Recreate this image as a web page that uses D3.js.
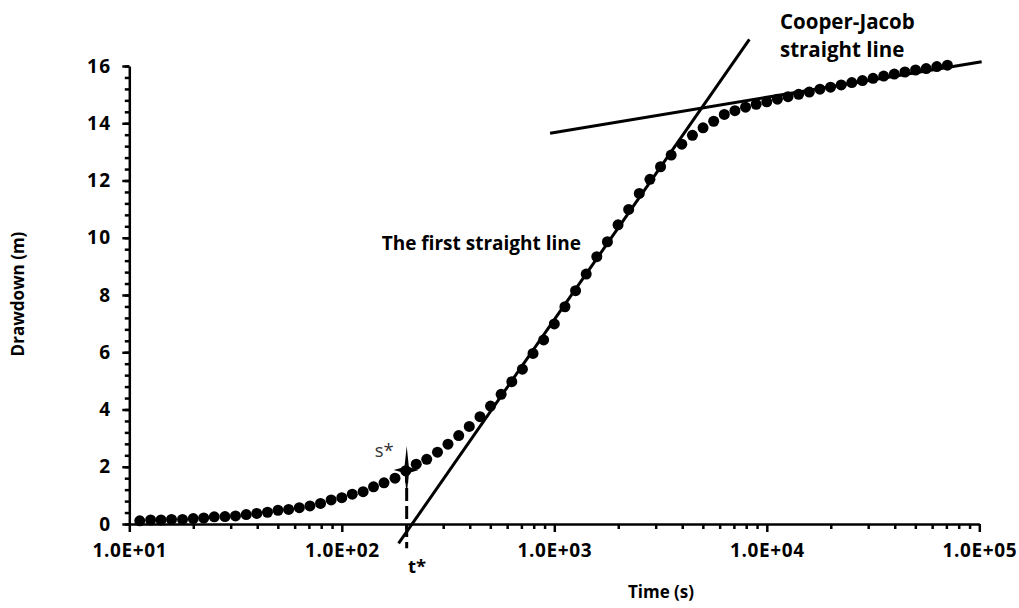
<!DOCTYPE html>
<html>
<head>
<meta charset="utf-8">
<script src="https://cdn.jsdelivr.net/npm/d3@7"></script>
<style>
  body { margin: 0; background: #fff; }
  svg { display: block; font-family: "Open Sans", "Liberation Sans", sans-serif; }
  .axis path, .axis line { stroke: #000; stroke-width: 2.5; }
</style>
</head>
<body>
<svg id="chart" width="1019" height="608"></svg>
<script>
// time (s), log spaced measurements
let times = [
  11.2, 12.6, 14.1, 15.8, 17.8, 20.0, 22.4, 25.1, 28.2, 31.6,
  35.5, 39.8, 44.7, 50.1, 56.2, 63.1, 70.8, 79.4, 89.1, 100,
  112, 126, 141, 158, 178, 200, 224, 251, 282, 316,
  355, 398, 447, 501, 562, 631, 708, 794, 891, 1000,
  1122, 1259, 1413, 1585, 1778, 1995, 2239, 2512, 2818, 3162,
  3548, 3981, 4467, 5012, 5623, 6310, 7079, 7943, 8913, 10000,
  11220, 12589, 14125, 15849, 17783, 19953, 22387, 25119, 28184, 31623,
  35481, 39811, 44668, 50119, 56234, 63096, 70795
];
// drawdown (m)
let drawdown = [
  0.11, 0.14, 0.14, 0.16, 0.16, 0.19, 0.21, 0.25, 0.26, 0.28,
  0.33, 0.37, 0.41, 0.48, 0.51, 0.57, 0.63, 0.72, 0.84, 0.92,
  1.04, 1.13, 1.30, 1.44, 1.60, 1.86, 2.09, 2.26, 2.51, 2.79,
  3.09, 3.41, 3.75, 4.12, 4.53, 4.97, 5.41, 5.96, 6.43, 6.99,
  7.59, 8.15, 8.73, 9.34, 9.86, 10.45, 10.99, 11.55, 12.04, 12.48,
  12.89, 13.27, 13.58, 13.84, 14.07, 14.31, 14.44, 14.56, 14.66, 14.75,
  14.84, 14.93, 15.01, 15.09, 15.19, 15.26, 15.34, 15.42, 15.49, 15.57,
  15.65, 15.72, 15.79, 15.86, 15.91, 15.98, 16.03
];

// straight lines [time, drawdown] end points
let firstLine = [[185, -0.68], [8280, 16.93]];
let cooperJacobLine = [[955, 13.65], [102600, 16.15]];

// t*, s* marker
let tStar = 202;
let sStar = 1.89;
let tStarBottom = -0.85;

let xTickValues = [10, 100, 1000, 10000, 100000];
let xTickLabels = ["1.0E+01", "1.0E+02", "1.0E+03", "1.0E+04", "1.0E+05"];
let yTickValues = [0, 2, 4, 6, 8, 10, 12, 14, 16];

// annotation anchors [time, drawdown]
let notes = [
  {text: "The first straight line", t: 154, s: 9.57, bold: true, size: 19},
  {text: "Cooper-Jacob", t: 11530, s: 17.29, bold: true, size: 20.5},
  {text: "straight line", t: 11530, s: 16.31, bold: true, size: 20.5},
  {text: "s*", t: 143, s: 2.34, bold: false, size: 18.5},
  {text: "t*", t: 205, s: -1.72, bold: true, size: 18.5}
];

let svg = d3.select("#chart");

let x = d3.scaleLog()
    .domain([10, 100000])
    .range([129.3, 979.3]);

let y = d3.scaleLinear()
    .domain([0, 16])
    .range([524, 66]);

// minor ticks first so the axis lines sit on top
let xMinor = x.ticks().filter(function(d) { return xTickValues.indexOf(d) === -1; });
svg.append("g")
    .attr("class", "axis")
    .attr("transform", "translate(0," + y(0) + ")")
    .call(d3.axisBottom(x).tickValues(xMinor).tickSize(5).tickSizeOuter(0).tickFormat(""))
    .select(".domain").remove();

let yMinor = d3.range(0, 16.01, 0.4);
svg.append("g")
    .attr("class", "axis")
    .attr("transform", "translate(" + x(10) + ",0)")
    .call(d3.axisLeft(y).tickValues(yMinor).tickSize(4.5).tickSizeOuter(0).tickFormat(""))
    .select(".domain").remove();

let yAxis = svg.append("g")
    .attr("class", "axis")
    .attr("transform", "translate(" + x(10) + ",0)")
    .call(d3.axisLeft(y).tickValues(yTickValues).tickSize(7).tickSizeOuter(0).tickPadding(11));

let xAxis = svg.append("g")
    .attr("class", "axis")
    .attr("transform", "translate(0," + y(0) + ")")
    .call(d3.axisBottom(x).tickValues(xTickValues).tickSize(8).tickSizeOuter(0).tickPadding(12)
        .tickFormat(function(d, i) { return xTickLabels[i]; }));

[xAxis, yAxis].forEach(function(a) {
    a.attr("font-family", null).attr("font-size", null);
    a.selectAll("text")
        .style("font-family", "'Open Sans', sans-serif")
        .style("font-weight", "bold")
        .style("fill", "#000");
});
xAxis.selectAll("text").style("font-size", "19px").style("letter-spacing", "0.6px");
yAxis.selectAll("text").style("font-size", "19px").style("letter-spacing", "1.3px");

// axis titles
svg.append("text")
    .attr("x", 661)
    .attr("y", 598)
    .attr("text-anchor", "middle")
    .style("font-size", "17px")
    .style("font-weight", "bold")
    .text("Time (s)");

svg.append("text")
    .attr("transform", "translate(24,294) rotate(-90)")
    .attr("text-anchor", "middle")
    .style("font-size", "17px")
    .style("font-weight", "bold")
    .text("Drawdown (m)");

// data points
let points = times.map(function(t, i) { return {t: t, s: drawdown[i]}; });
svg.append("g")
    .selectAll("circle")
    .data(points)
    .enter()
    .append("circle")
    .attr("cx", function(d) { return x(d.t); })
    .attr("cy", function(d) { return y(d.s); })
    .attr("r", 5.5)
    .attr("fill", "#000");

// straight lines
let line = d3.line()
    .x(function(d) { return x(d[0]); })
    .y(function(d) { return y(d[1]); });

[firstLine, cooperJacobLine].forEach(function(l) {
    svg.append("path")
        .attr("d", line(l))
        .attr("fill", "none")
        .attr("stroke", "#000")
        .attr("stroke-width", 3);
});

// t* dashed marker
svg.append("line")
    .attr("x1", x(tStar))
    .attr("x2", x(tStar))
    .attr("y1", y(sStar))
    .attr("y2", y(tStarBottom))
    .attr("stroke", "#000")
    .attr("stroke-width", 3)
    .attr("stroke-dasharray", "13,5");

// s* star
let star = "M0,-24 L2.2,-3 L12,0 L2.2,3 L0,25 L-2.2,3 L-13,0 L-2.2,-3 Z";
svg.append("path")
    .attr("d", star)
    .attr("transform", "translate(" + x(tStar) + "," + y(sStar) + ")")
    .attr("fill", "#000");

// annotations
svg.append("g")
    .selectAll("text")
    .data(notes)
    .enter()
    .append("text")
    .attr("x", function(d) { return x(d.t); })
    .attr("y", function(d) { return y(d.s); })
    .style("font-size", function(d) { return d.size + "px"; })
    .style("font-weight", function(d) { return d.bold ? "bold" : "normal"; })
    .style("fill", function(d) { return d.bold ? "#000" : "#333"; })
    .text(function(d) { return d.text; });
</script>
</body>
</html>
